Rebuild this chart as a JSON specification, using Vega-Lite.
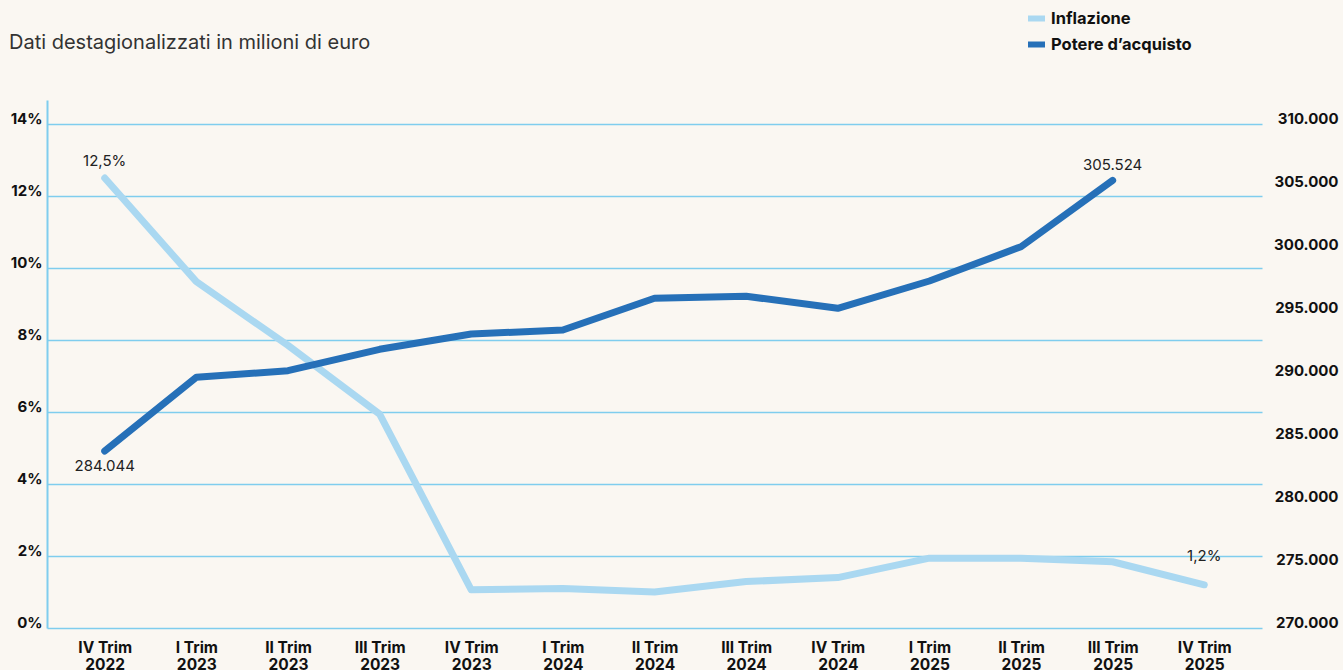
{
  "$schema": "https://vega.github.io/schema/vega-lite/v6.json",
  "autosize": {"type": "none"},
  "width": 1215,
  "height": 528,
  "padding": {"left": 47, "top": 100, "right": 81, "bottom": 42},
  "background": "#faf7f2",
  "title": {
    "text": "Dati destagionalizzati in milioni di euro",
    "anchor": "start",
    "frame": "group",
    "dx": -38,
    "offset": -62,
    "baseline": "alphabetic",
    "font": "Inter",
    "fontSize": 20,
    "fontWeight": "normal",
    "color": "#333333"
  },
  "config": {
    "locale": {
      "number": {"decimal": ",", "thousands": ".", "grouping": [3], "currency": ["€", ""]}
    },
    "view": {"stroke": null},
    "axis": {"labelFont": "Inter", "labelFontWeight": "bold", "labelFontSize": 15, "labelColor": "#111111", "title": null}
  },
  "data": {
    "values": [
      {"periodo": "IV Trim 2022", "inflazione": 0.125, "potere": 284044},
      {"periodo": "I Trim 2023", "inflazione": 0.0962, "potere": 289900},
      {"periodo": "II Trim 2023", "inflazione": 0.0785, "potere": 290420},
      {"periodo": "III Trim 2023", "inflazione": 0.0594, "potere": 292120},
      {"periodo": "IV Trim 2023", "inflazione": 0.0106, "potere": 293330},
      {"periodo": "I Trim 2024", "inflazione": 0.011, "potere": 293650},
      {"periodo": "II Trim 2024", "inflazione": 0.01, "potere": 296170},
      {"periodo": "III Trim 2024", "inflazione": 0.0129, "potere": 296330},
      {"periodo": "IV Trim 2024", "inflazione": 0.014, "potere": 295370},
      {"periodo": "I Trim 2025", "inflazione": 0.0194, "potere": 297540},
      {"periodo": "II Trim 2025", "inflazione": 0.0194, "potere": 300260},
      {"periodo": "III Trim 2025", "inflazione": 0.0184, "potere": 305524},
      {"periodo": "IV Trim 2025", "inflazione": 0.012, "potere": null}
    ]
  },
  "encoding": {
    "x": {
      "field": "periodo",
      "type": "ordinal",
      "sort": null,
      "scale": {"type": "point", "padding": 0.63},
      "axis": {
        "labelAngle": 0,
        "domain": false,
        "ticks": false,
        "grid": false,
        "labelPadding": 12,
        "labelLineHeight": 17,
        "labelFontSize": 15.5,
        "labelExpr": "[slice(datum.value, 0, -5), slice(datum.value, -4)]"
      }
    }
  },
  "layer": [
    {
      "layer": [
        {
          "mark": {"type": "line", "strokeWidth": 7, "strokeCap": "round", "strokeJoin": "round"},
          "encoding": {
            "y": {
              "field": "inflazione",
              "type": "quantitative",
              "scale": {"domain": [0, 0.146667], "nice": false, "zero": true},
              "axis": {
                "orient": "left",
                "values": [0, 0.01, 0.02, 0.03, 0.04, 0.05, 0.06, 0.07, 0.08, 0.09, 0.1, 0.11, 0.12, 0.13, 0.14],
                "format": ".0%",
                "labelExpr": "round(datum.value * 100) % 2 === 0 ? datum.label : ''",
                "grid": true,
                "gridColor": "#7fcdee",
                "gridWidth": 1.5,
                "gridDash": {"condition": {"test": "round(datum.value * 100) % 2 === 1", "value": [3, 5]}, "value": []},
                "domain": true,
                "domainColor": "#7fcdee",
                "domainWidth": 2,
                "ticks": false,
                "labelPadding": 5,
                "labelOffset": -6
              }
            },
            "color": {
              "datum": "Inflazione",
              "type": "nominal",
              "scale": {"domain": ["Inflazione", "Potere d’acquisto"], "range": ["#aad8f1", "#2670b8"]},
              "legend": {
                "orient": "none",
                "legendX": 978,
                "legendY": -93,
                "title": null,
                "symbolType": "stroke",
                "symbolStrokeWidth": 6,
                "symbolSize": 289,
                "labelFont": "Inter",
                "labelFontWeight": "bold",
                "labelFontSize": 16.5,
                "labelColor": "#111111",
                "rowPadding": 1,
                "labelOffset": 3
              }
            }
          }
        },
        {
          "transform": [{"filter": "datum.periodo === 'IV Trim 2022'"}],
          "mark": {"type": "text", "font": "Inter", "fontSize": 15, "color": "#222222", "dy": -17},
          "encoding": {
            "y": {"field": "inflazione", "type": "quantitative", "scale": {"domain": [0, 0.146667], "nice": false, "zero": true}},
            "text": {"field": "inflazione", "type": "quantitative", "format": ".1%"}
          }
        },
        {
          "transform": [{"filter": "datum.periodo === 'IV Trim 2025'"}],
          "mark": {"type": "text", "font": "Inter", "fontSize": 15, "color": "#222222", "dy": -29},
          "encoding": {
            "y": {"field": "inflazione", "type": "quantitative", "scale": {"domain": [0, 0.146667], "nice": false, "zero": true}},
            "text": {"field": "inflazione", "type": "quantitative", "format": ".1%"}
          }
        }
      ]
    },
    {
      "layer": [
        {
          "mark": {"type": "line", "strokeWidth": 7, "strokeCap": "round", "strokeJoin": "round"},
          "encoding": {
            "y": {
              "field": "potere",
              "type": "quantitative",
              "scale": {"domain": [270000, 311905], "nice": false, "zero": false},
              "axis": {
                "orient": "right",
                "values": [270000, 275000, 280000, 285000, 290000, 295000, 300000, 305000, 310000],
                "format": ",d",
                "grid": false,
                "domain": false,
                "ticks": false,
                "labelAlign": "right",
                "labelPadding": 76,
                "labelOffset": -6
              }
            },
            "color": {"datum": "Potere d’acquisto", "type": "nominal"}
          }
        },
        {
          "transform": [{"filter": "datum.periodo === 'IV Trim 2022'"}],
          "mark": {"type": "text", "font": "Inter", "fontSize": 15, "color": "#222222", "dy": 15},
          "encoding": {
            "y": {"field": "potere", "type": "quantitative", "scale": {"domain": [270000, 311905], "nice": false, "zero": false}},
            "text": {"field": "potere", "type": "quantitative", "format": ",d"}
          }
        },
        {
          "transform": [{"filter": "datum.periodo === 'III Trim 2025'"}],
          "mark": {"type": "text", "font": "Inter", "fontSize": 15, "color": "#222222", "dy": -15},
          "encoding": {
            "y": {"field": "potere", "type": "quantitative", "scale": {"domain": [270000, 311905], "nice": false, "zero": false}},
            "text": {"field": "potere", "type": "quantitative", "format": ",d"}
          }
        }
      ]
    }
  ],
  "resolve": {"scale": {"y": "independent"}}
}
